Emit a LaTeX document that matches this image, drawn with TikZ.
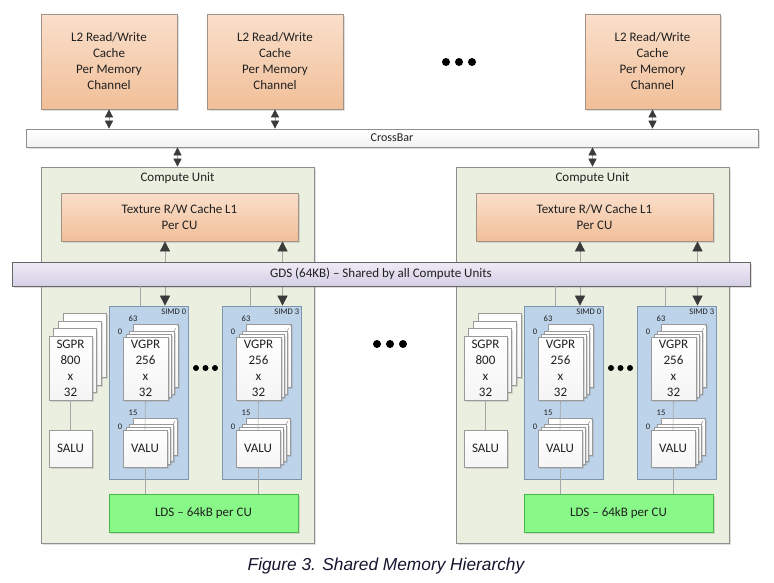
\documentclass[tikz,border=0pt]{standalone}
\usepackage{fontspec}
\setmainfont{Carlito}
\newfontfamily\capfont{Liberation Sans}
\usetikzlibrary{arrows.meta,shadows}

\definecolor{peachtop}{HTML}{FADFCB}
\definecolor{peachbot}{HTML}{F1BF98}
\definecolor{peachline}{HTML}{A09286}
\definecolor{cufill}{HTML}{EBEFE0}
\definecolor{boxline}{HTML}{8E8E8E}
\definecolor{gdstop}{HTML}{EEEBF6}
\definecolor{gdsbot}{HTML}{D5CFE5}
\definecolor{simdfill}{HTML}{BDD3E9}
\definecolor{simdline}{HTML}{7F95AD}
\definecolor{ldsfill}{HTML}{88F888}
\definecolor{arrowgray}{HTML}{3A3A3A}
\definecolor{textgray}{HTML}{202020}
\definecolor{capblue}{HTML}{14142E}

\tikzset{
  boxshadow/.style={drop shadow={shadow xshift=1.5pt,shadow yshift=-1.5pt,opacity=.25}},
  basebox/.style={inner sep=0pt,align=center,text=textgray,font=\fontsize{13}{16}\selectfont,line width=0.7pt},
  l2box/.style={basebox,draw=peachline,top color=peachtop,bottom color=peachbot,boxshadow},
  barbox/.style={basebox,draw=boxline,top color=white,bottom color=gray!10,boxshadow},
  gdsbox/.style={basebox,draw=gray!80!black,top color=gdstop,bottom color=gdsbot,boxshadow},
  cubox/.style={basebox,draw=boxline,fill=cufill,boxshadow},
  simdbox/.style={basebox,draw=simdline,fill=simdfill},
  card/.style={basebox,draw=gray!80,top color=white,bottom color=gray!8,boxshadow},
  ldsbox/.style={basebox,draw=green!45!gray,fill=ldsfill,boxshadow},
  tinylabel/.style={inner sep=0pt,text=textgray,font=\fontsize{8.5}{10}\selectfont},
  wire/.style={draw=gray!70,line width=0.6pt},
  biarrow/.style={wire,{Triangle[length=8pt,width=8pt,color=arrowgray]}-{Triangle[length=8pt,width=8pt,color=arrowgray]}},
  bigarrow/.style={wire,{Triangle[length=10pt,width=10pt,color=arrowgray]}-{Triangle[length=10pt,width=10pt,color=arrowgray]}},
  dotline/.style={draw=gray!80,densely dashed,line width=0.5pt},
  bigdot/.style={fill=black}
}

\begin{document}
\begin{tikzpicture}[x=1pt,y=-1pt]
\useasboundingbox (0,0) rectangle (774,582);

% L2 caches and crossbar
\node[l2box,minimum width=136pt,minimum height=95pt] (l2a) at (109,61.5) {L2 Read/Write\\Cache\\Per Memory\\Channel};
\node[l2box,minimum width=136pt,minimum height=95pt] (l2b) at (275,61.5) {L2 Read/Write\\Cache\\Per Memory\\Channel};
\node[l2box,minimum width=135pt,minimum height=95pt] (l2c) at (652.5,61.5) {L2 Read/Write\\Cache\\Per Memory\\Channel};
\foreach \px in {446,459,472} \fill[bigdot] (\px,62) circle (4);

\node[barbox,minimum width=732pt,minimum height=18pt,font=\fontsize{12}{14}\selectfont] (xbar) at (392,138) {CrossBar};
\foreach \l in {l2a,l2b,l2c} \draw[biarrow] (\l.south) -- (\l.south |- xbar.north);

% two compute units
\foreach \c/\dx in {a/0,b/415} {
\begin{scope}[xshift=\dx]
  \node[cubox,minimum width=273pt,minimum height=376pt] (cu\c) at (177.5,355) {};
  \node[basebox] (cutitle\c) at (177.5,178) {Compute Unit};
  \node[l2box,minimum width=237pt,minimum height=48pt] (tex\c) at (179.5,217) {Texture R/W Cache L1\\Per CU};
  \node[ldsbox,minimum width=189pt,minimum height=38pt] (lds\c) at (203.5,513) {LDS -- 64kB per CU};

  % scalar registers
  \foreach \ox/\oy in {14/23,9/15,4/8}
    \node[card,minimum width=43pt,minimum height=64pt] (sgpr\c-\ox) at (70.5+\ox,368-\oy) {};
  \node[card,minimum width=43pt,minimum height=64pt] (sgpr\c) at (70.5,368) {SGPR\\800\\x\\32};
  \node[card,minimum width=43pt,minimum height=37pt] (salu\c) at (70.5,448.5) {SALU};
  \draw[wire] (sgpr\c) -- (salu\c);

  % SIMD units
  \foreach \s/\sx/\ao in {0/0/16.5,3/113/21} {
  \begin{scope}[xshift=\sx]
    \node[simdbox,minimum width=79pt,minimum height=173pt] (simd\s\c) at (148.5,392.5) {};
    \node[tinylabel,anchor=north east] (simdlab\s\c) at ([xshift=-2pt,yshift=-3pt]simd\s\c.north east) {SIMD \s};
    \draw[bigarrow] ([xshift=\ao pt]simd\s\c.north |- tex\c.south) -- ([xshift=\ao pt]simd\s\c.north);

    \foreach \ox/\oy in {10/13,6/6,3/3}
      \node[card,minimum width=45pt,minimum height=63pt] (vgpr\s\c-\ox) at (145.5+\ox,368.5-\oy) {};
    \node[card,minimum width=45pt,minimum height=63pt] (vgpr\s\c) at (145.5,368.5) {VGPR\\256\\x\\32};
    \draw[dotline] (vgpr\s\c-6.north east) -- (vgpr\s\c-10.north east);
    \node[tinylabel] (vtop\s\c) at (133,319) {63};
    \node[tinylabel] (vbot\s\c) at (120,332) {0};

    \foreach \ox/\oy in {10/12,6/6,3/3}
      \node[card,minimum width=44pt,minimum height=37pt] (valu\s\c-\ox) at (145+\ox,448.5-\oy) {};
    \node[card,minimum width=44pt,minimum height=37pt] (valu\s\c) at (145,448.5) {VALU};
    \draw[dotline] (valu\s\c-6.north east) -- (valu\s\c-10.north east);
    \node[tinylabel] (atop\s\c) at (133,413) {15};
    \node[tinylabel] (abot\s\c) at (120,427) {0};

    \draw[wire] (vgpr\s\c.south) -- (valu\s\c.north);
    \draw[wire] (valu\s\c.south) -- (valu\s\c.south |- lds\c.north);
  \end{scope}
  }
  \foreach \px in {196,205.5,215} \fill[bigdot] (\px,368) circle (3);
\end{scope}
}
\draw[biarrow] (xbar.south -| cua.north) -- (cua.north);
\draw[biarrow] (xbar.south -| cub.north) -- (cub.north);

% global data share
\node[gdsbox,minimum width=738pt,minimum height=24pt] (gds) at (381,274) {GDS (64KB) -- Shared by all Compute Units};
\foreach \c in {a,b}
  \foreach \s/\lo in {0/-8.5,3/-11}
    \draw[wire] ([xshift=\lo pt]simd\s\c.north) -- ([xshift=\lo pt]simd\s\c.north |- gds.south);

\foreach \px in {377,390,403} \fill[bigdot] (\px,344) circle (4);

\node[font=\capfont\itshape\fontsize{17.3}{20}\selectfont,text=capblue] (caption) at (386,566) {Figure 3. Shared Memory Hierarchy};
\end{tikzpicture}
\end{document}
